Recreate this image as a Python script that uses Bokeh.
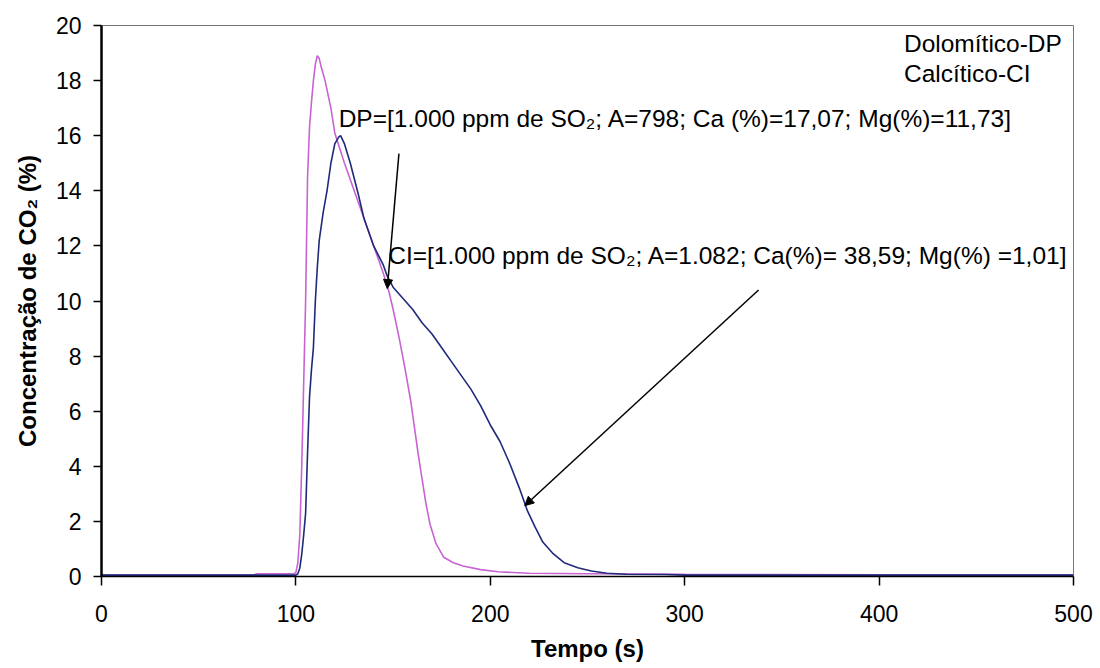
from bokeh.plotting import figure
from bokeh.models import Label, Arrow, NormalHead, Range1d, FixedTicker
from bokeh.embed import file_html
from bokeh.resources import INLINE

# ---- data ----
dp_t = [0, 50, 78, 80, 99, 100, 101, 102, 103, 104, 105, 106, 107, 108, 109, 110, 111, 112, 113, 115,
        118, 120, 125, 130, 135, 140, 145, 148, 150, 153, 156, 159, 161, 163, 165, 167, 169, 172, 176,
        181, 186, 195, 204, 220, 250, 300, 400, 500]
dp_y = [0.05, 0.05, 0.05, 0.1, 0.1, 0.15, 0.5, 1.5, 4.0, 7.0, 10.0, 14.5, 16.3, 17.2, 18.0, 18.6, 18.9, 18.8,
        18.5, 18.0, 17.0, 16.1, 15.0, 14.0, 13.0, 12.0, 11.0, 10.3, 9.7, 8.7, 7.6, 6.4, 5.4, 4.4, 3.5,
        2.6, 1.9, 1.2, 0.7, 0.5, 0.38, 0.25, 0.17, 0.12, 0.1, 0.08, 0.06, 0.06]

ci_t = [0, 50, 100, 101, 102, 103, 104, 105, 106, 107, 108, 109, 110, 111, 112, 114, 116, 118, 120, 122,
        123, 125, 128, 132, 135, 140, 145, 147, 150, 155, 160, 165, 170, 175, 180, 185, 190, 195, 200,
        205, 210, 215, 219, 223, 227, 232, 238, 245, 252, 260, 270, 290, 300, 400, 500]
ci_y = [0.05, 0.05, 0.05, 0.1, 0.3, 0.8, 1.5, 2.3, 4.5, 6.5, 7.5, 8.3, 10.0, 11.2, 12.2, 13.2, 14.0, 15.0,
        15.7, 15.95, 16.0, 15.7, 15.0, 13.9, 13.0, 12.0, 11.3, 10.9, 10.5, 10.1, 9.7, 9.2, 8.8, 8.3, 7.8,
        7.3, 6.8, 6.2, 5.5, 4.9, 4.1, 3.2, 2.4, 1.8, 1.25, 0.85, 0.5, 0.32, 0.2, 0.12, 0.08, 0.07, 0.05,
        0.05, 0.05]

x_ticks = [0, 100, 200, 300, 400, 500]
y_ticks = [0, 2, 4, 6, 8, 10, 12, 14, 16, 18, 20]

note_texts = ["DP=[1.000 ppm de SO\u2082; A=798; Ca (%)=17,07; Mg(%)=11,73]",
              "CI=[1.000 ppm de SO\u2082; A=1.082; Ca(%)= 38,59; Mg(%) =1,01]"]
note_x = [122, 147.5]
note_y = [16.63, 11.65]

arrow_x0 = [153, 338]
arrow_y0 = [15.35, 10.4]
arrow_x1 = [147, 217.7]
arrow_y1 = [10.45, 2.57]

legend_texts = ["Dolomítico-DP", "Calcítico-CI"]
legend_x = 412.8
legend_y = [19.34, 18.26]

FONT = "Liberation Sans"
PINK = "#c864d2"
BLUE = "#1f2a7a"

p = figure(width=1100, height=668, output_backend="svg", toolbar_location=None,
           x_range=Range1d(0, 500), y_range=Range1d(0, 20),
           min_border_left=101, min_border_right=27, min_border_top=25, min_border_bottom=92)
p.background_fill_color = "white"
p.border_fill_color = "white"
p.outline_line_color = "#777777"
p.outline_line_width = 1
p.xgrid.visible = False
p.ygrid.visible = False

p.xaxis.ticker = FixedTicker(ticks=x_ticks)
p.yaxis.ticker = FixedTicker(ticks=y_ticks)
for ax in (p.xaxis, p.yaxis):
    ax.minor_tick_line_color = None
    ax.major_tick_in = 0
    ax.axis_line_color = "black"
    ax.major_tick_line_color = "black"
    ax.major_label_text_font = FONT
    ax.major_label_text_font_size = "23px"
    ax.major_label_text_color = "black"
    ax.axis_label_text_font = FONT
    ax.axis_label_text_font_style = "bold"
    ax.axis_label_text_font_size = "24px"
    ax.axis_label_text_color = "black"

p.xaxis.axis_line_width = 1.5
p.xaxis.major_tick_line_width = 1.5
p.xaxis.major_tick_out = 9
p.xaxis.major_label_standoff = 19
p.xaxis.axis_label = "Tempo (s)"
p.xaxis.axis_label_standoff = 10

p.yaxis.axis_line_width = 2.5
p.yaxis.major_tick_line_width = 1.5
p.yaxis.major_tick_out = 8
p.yaxis.major_label_standoff = 12
p.yaxis.axis_label = "Concentração de CO\u2082 (%)"
p.yaxis.axis_label_standoff = 12

p.line(dp_t, dp_y, line_color=PINK, line_width=1.6)
p.line(ci_t, ci_y, line_color=BLUE, line_width=1.6)

for i in range(len(arrow_x0)):
    p.add_layout(Arrow(end=NormalHead(size=9, fill_color="black", line_color="black"),
                       x_start=arrow_x0[i], y_start=arrow_y0[i],
                       x_end=arrow_x1[i], y_end=arrow_y1[i],
                       line_color="black", line_width=1.5))

for i, t in enumerate(note_texts):
    p.add_layout(Label(x=note_x[i], y=note_y[i], text=t, text_font=FONT,
                       text_font_size="24.5px", text_baseline="middle", text_color="black"))

for i, t in enumerate(legend_texts):
    p.add_layout(Label(x=legend_x, y=legend_y[i], text=t, text_font=FONT,
                       text_font_size="24.5px", text_baseline="middle", text_color="black"))

open("out.html", "w").write(file_html(p, INLINE))
